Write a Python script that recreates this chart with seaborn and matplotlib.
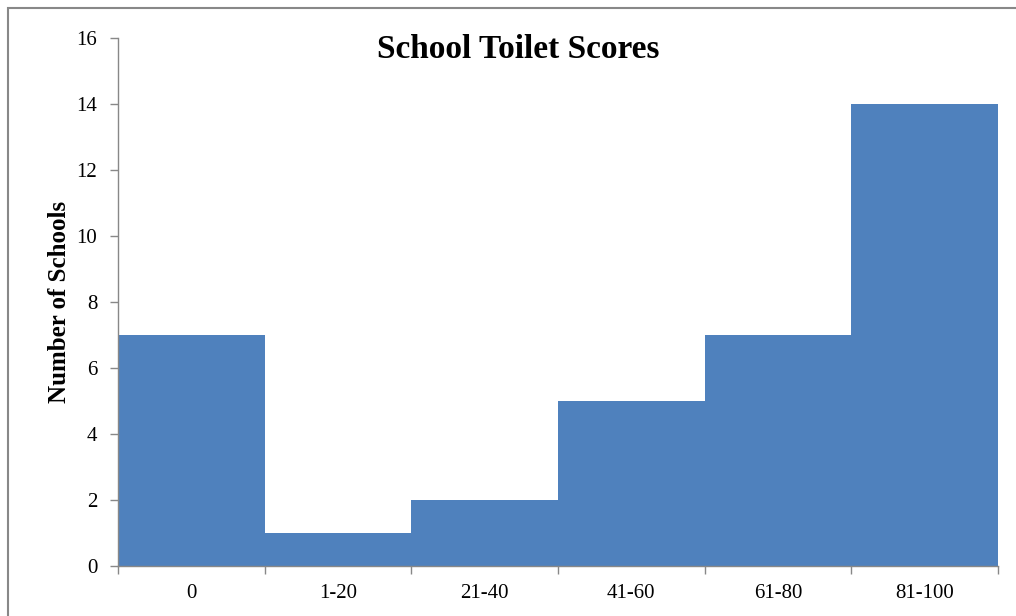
import matplotlib
matplotlib.use("Agg")
import matplotlib.pyplot as plt
import seaborn as sns
import pandas as pd
from matplotlib.patches import Rectangle

categories = ["0", "1-20", "21-40", "41-60", "61-80", "81-100"]
counts = [7, 1, 2, 5, 7, 14]
y_ticks = [0, 2, 4, 6, 8, 10, 12, 14, 16]

sns.set_theme(style="white")
plt.rcParams['font.family'] = ['Liberation Serif', 'DejaVu Serif']
plt.rcParams['text.color'] = 'black'
plt.rcParams['axes.labelcolor'] = 'black'

df = pd.DataFrame({"Score": categories, "Schools": counts})

fig = plt.figure(figsize=(10.16, 6.16), dpi=100)
ax = fig.add_axes([118/1016, 1-566/616, (998-118)/1016, (566-38)/616])

sns.barplot(data=df, x="Score", y="Schools", order=categories, color="#4F81BD",
            saturation=1, width=1.0, edgecolor="none", linewidth=0, ax=ax)

ax.set_xlim(-0.5, len(categories) - 0.5)
ax.set_ylim(0, 16)
ax.set_yticks(y_ticks)
ax.set_yticklabels([str(t) for t in y_ticks], fontsize=15)
ax.set_xticks(range(len(categories)))
ax.set_xticklabels(categories, fontsize=15)
ax.set_xticks([i - 0.5 for i in range(len(categories) + 1)], minor=True)
ax.tick_params(axis="x", which="major", length=0, pad=13, labelcolor="black")
ax.tick_params(axis="x", which="minor", length=6, width=1, color="#888888", direction="out", bottom=True)
ax.tick_params(axis="y", which="major", length=6, width=1, color="#888888", direction="out", left=True,
               pad=9, labelcolor="black")

for s in ["top", "right"]:
    ax.spines[s].set_visible(False)
for s in ["left", "bottom"]:
    ax.spines[s].set_color("#888888")
    ax.spines[s].set_linewidth(1)

ax.set_xlabel("")
ax.set_ylabel("Number of Schools", fontsize=18, fontweight="bold", labelpad=4, color="black")

fig.text(518/1016, 1-50/616, "School Toilet Scores", ha="center", va="center",
         fontsize=24, fontweight="bold", color="black")

fig.patches.append(Rectangle((8/1016, -0.1), 1.2, 1 - 8/616 + 0.1, transform=fig.transFigure,
                             fill=False, edgecolor="#888888", linewidth=1.5, zorder=10))

fig.savefig("out.png", dpi=100)
